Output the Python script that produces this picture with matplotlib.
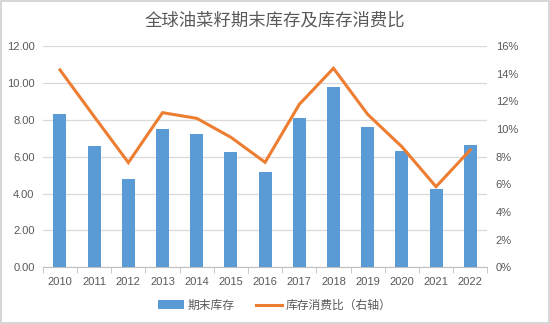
import numpy as np
import matplotlib
matplotlib.use("Agg")
import matplotlib.pyplot as plt
from matplotlib.ticker import FuncFormatter, MultipleLocator

plt.rcParams['font.family'] = ['Noto Sans CJK SC', 'DejaVu Sans']

# data
years = ['2010', '2011', '2012', '2013', '2014', '2015', '2016',
         '2017', '2018', '2019', '2020', '2021', '2022']
stock = [8.30, 6.58, 4.79, 7.51, 7.24, 6.25, 5.19, 8.10, 9.78, 7.60, 6.29, 4.22, 6.65]
ratio = [14.27, 10.9, 7.57, 11.18, 10.77, 9.4, 7.59, 11.78, 14.39, 11.06, 8.72, 5.83, 8.48]

blue = '#5B9BD5'
orange = '#ED7D31'
grey = '#595959'
grid = '#D9D9D9'

fig = plt.figure(figsize=(5.5, 3.24), dpi=100)
ax = fig.add_axes([0.078, 0.175, 0.808, 0.683])
ax2 = ax.twinx()

x = np.arange(len(years))
ax.bar(x, stock, width=0.38, color=blue, zorder=3, label='期末库存')
ax2.plot(x, ratio, color=orange, linewidth=2.2, label='库存消费比（右轴）',
         solid_joinstyle='miter')

ax.set_xlim(-0.5, len(years) - 0.5)
ax.set_ylim(0, 12)
ax2.set_ylim(0, 16)
ax.yaxis.set_major_locator(MultipleLocator(2))
ax2.yaxis.set_major_locator(MultipleLocator(2))
ax.yaxis.set_major_formatter(FuncFormatter(lambda v, p: '%.2f' % v))
ax2.yaxis.set_major_formatter(FuncFormatter(lambda v, p: '%d%%' % v))

ax.grid(axis='y', color=grid, linewidth=0.9, zorder=0)
ax.set_axisbelow(True)

for a in (ax, ax2):
    for s in ('top', 'right', 'left', 'bottom'):
        a.spines[s].set_visible(False)
    a.tick_params(axis='y', length=0, labelsize=8, labelcolor=grey, pad=6)
ax.spines['bottom'].set_visible(True)
ax.spines['bottom'].set_color('#BFBFBF')

ax.set_xticks(x)
ax.set_xticklabels(years)
ax.set_xticks(np.arange(-0.5, len(years)), minor=True)
ax.tick_params(axis='x', which='major', length=0, labelsize=8, labelcolor=grey, pad=7)
ax.tick_params(axis='x', which='minor', length=4, color='#BFBFBF')
for lab in ax.get_xticklabels() + ax.get_yticklabels() + ax2.get_yticklabels():
    lab.set_family(['Liberation Sans', 'DejaVu Sans'])

fig.text(0.5, 0.937, '全球油菜籽期末库存及库存消费比', ha='center', va='center',
         fontsize=12.5, color=grey, fontweight='light')

h1, l1 = ax.get_legend_handles_labels()
h2, l2 = ax2.get_legend_handles_labels()
fig.legend(h1 + h2, l1 + l2, loc='center', bbox_to_anchor=(0.5, 0.058), ncol=2,
           frameon=False, fontsize=8.5, labelcolor=grey, handlelength=2.2,
           handletextpad=0.3, columnspacing=1.8)

fig.patches.append(plt.Rectangle((0.002, 0.003), 0.996, 0.994, transform=fig.transFigure,
                                 fill=False, edgecolor='#D0D0D0', linewidth=1.2))

fig.savefig('out.png', dpi=100)
